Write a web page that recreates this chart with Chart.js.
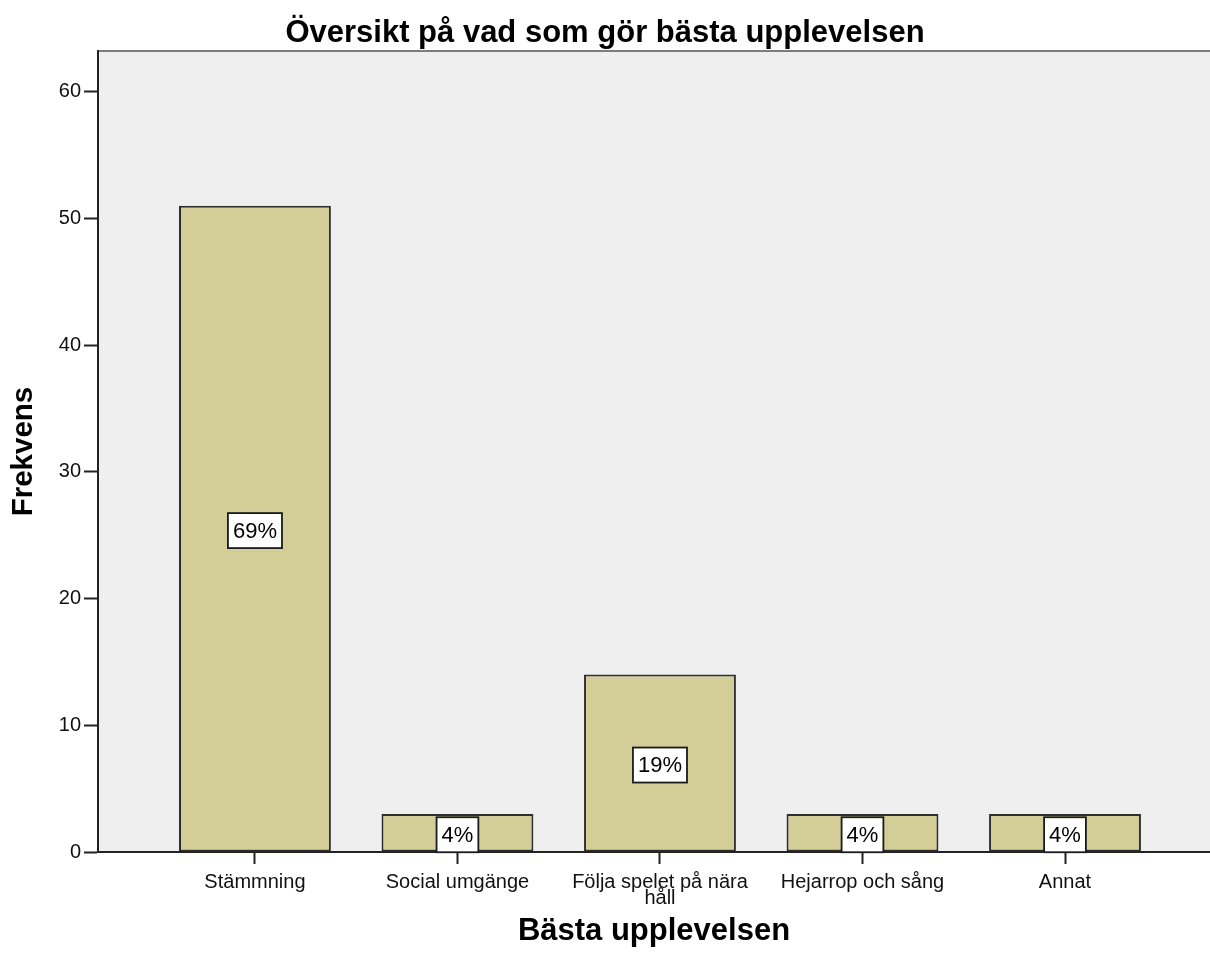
<!DOCTYPE html>
<html>
<head>
<meta charset="utf-8">
<script src="https://cdn.jsdelivr.net/npm/chart.js@4/dist/chart.umd.min.js"></script>
<style>
  html, body { margin: 0; padding: 0; background: #ffffff; }
  canvas { display: block; }
</style>
</head>
<body>
<canvas id="c" width="1210" height="962"></canvas>
<script>
// ---- data ----
const categories = ['Stämmning', 'Social umgänge', ['Följa spelet på nära', 'håll'], 'Hejarrop och sång', 'Annat'];
const frequencies = [51, 3, 14, 3, 3];
const percentLabels = ['69%', '4%', '19%', '4%', '4%'];
const yTicks = [0, 10, 20, 30, 40, 50, 60];

const chartTitle = 'Översikt på vad som gör bästa upplevelsen';
const xTitle = 'Bästa upplevelsen';
const yTitle = 'Frekvens';

const FONT = '"Liberation Sans", Arial, Helvetica, sans-serif';

const points = frequencies.map((v, i) => ({ x: i, y: v }));

const plotBg = {
  id: 'plotBg',
  beforeDraw(chart) {
    const { ctx, chartArea: a, width, height } = chart;
    ctx.save();
    ctx.fillStyle = '#ffffff';
    ctx.fillRect(0, 0, width, height);
    ctx.fillStyle = '#efefef';
    ctx.fillRect(a.left, a.top, a.right - a.left, a.bottom - a.top);
    ctx.strokeStyle = '#7d7d7d';
    ctx.lineWidth = 2;
    ctx.beginPath();
    ctx.moveTo(a.left - 1, a.top);
    ctx.lineTo(a.right, a.top);
    ctx.stroke();
    ctx.restore();
  }
};

const pctBoxes = {
  id: 'pctBoxes',
  afterDatasetsDraw(chart) {
    const { ctx } = chart;
    const meta = chart.getDatasetMeta(0);
    ctx.save();
    ctx.font = '22px ' + FONT;
    ctx.textAlign = 'center';
    ctx.textBaseline = 'middle';
    meta.data.forEach((el, i) => {
      const txt = percentLabels[i];
      const cx = el.x;
      const cy = (el.y + el.base) / 2 + 2;
      const w = ctx.measureText(txt).width + 10;
      const h = 35;
      ctx.fillStyle = '#ffffff';
      ctx.fillRect(cx - w / 2, cy - h / 2, w, h);
      ctx.strokeStyle = '#1a1a1a';
      ctx.lineWidth = 1.8;
      ctx.strokeRect(cx - w / 2, cy - h / 2, w, h);
      ctx.fillStyle = '#000000';
      ctx.fillText(txt, cx, cy + 1);
    });
    ctx.restore();
  }
};

new Chart(document.getElementById('c'), {
  type: 'bar',
  data: {
    datasets: [{
      data: points,
      backgroundColor: '#d3ce98',
      borderColor: '#2e2e2e',
      borderWidth: 2,
      borderSkipped: false,
      barPercentage: 0.75,
      categoryPercentage: 1.0
    }]
  },
  options: {
    responsive: false,
    animation: false,
    layout: { padding: 0 },
    plugins: {
      legend: { display: false },
      tooltip: { enabled: false },
      title: {
        display: true,
        text: chartTitle,
        color: '#000000',
        font: { family: FONT, size: 31, weight: 'bold', lineHeight: 1.1 },
        padding: { top: 16, bottom: 1 }
      }
    },
    scales: {
      x: {
        type: 'linear',
        min: -0.775,
        max: 4.716,
        offset: false,
        afterBuildTicks(axis) { axis.ticks = categories.map((_, i) => ({ value: i })); },
        afterFit(axis) { axis.height = 110; },
        ticks: {
          includeBounds: false,
          autoSkip: false,
          maxRotation: 0,
          padding: 10,
          color: '#111111',
          font: { family: FONT, size: 20, lineHeight: 0.82 },
          callback: (v) => categories[v]
        },
        grid: {
          display: true,
          offset: false,
          drawOnChartArea: false,
          drawTicks: true,
          tickLength: 12,
          tickWidth: 2,
          tickColor: '#222222'
        },
        border: { display: true, color: '#222222', width: 2 },
        title: {
          display: true,
          text: xTitle,
          color: '#000000',
          font: { family: FONT, size: 31, weight: 'bold' },
          padding: { top: 0, bottom: 12 }
        }
      },
      y: {
        min: 0,
        max: 63.2,
        afterBuildTicks(axis) { axis.ticks = yTicks.map(v => ({ value: v })); },
        afterFit(axis) { axis.width = 98; },
        ticks: {
          includeBounds: false,
          padding: 3,
          color: '#111111',
          font: { family: FONT, size: 20 }
        },
        grid: {
          display: true,
          offset: false,
          drawOnChartArea: false,
          drawTicks: true,
          tickLength: 14,
          tickWidth: 2,
          tickColor: '#222222'
        },
        border: { display: true, color: '#222222', width: 2 },
        title: {
          display: true,
          text: yTitle,
          color: '#000000',
          font: { family: FONT, size: 29.5, weight: 'bold' },
          padding: { top: 6, bottom: 0 }
        }
      }
    }
  },
  plugins: [plotBg, pctBoxes]
});
</script>
</body>
</html>
